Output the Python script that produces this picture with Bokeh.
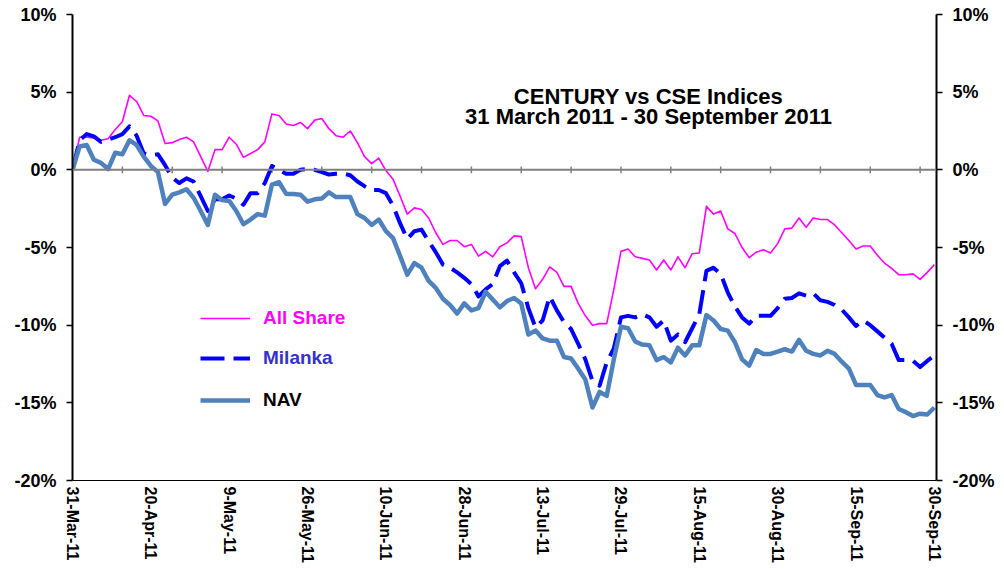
from bokeh.plotting import figure
from bokeh.models import (Range1d, LinearAxis, FixedTicker, PrintfTickFormatter,
                          Span, Legend, LegendItem, Label)
from bokeh.embed import file_html
from bokeh.resources import INLINE

# ---------------- data ----------------
tick_labels = ["31-Mar-11", "20-Apr-11", "9-May-11", "26-May-11", "10-Jun-11",
               "28-Jun-11", "13-Jul-11", "29-Jul-11", "15-Aug-11", "30-Aug-11",
               "15-Sep-11", "30-Sep-11"]
label_step = 11   # trading days between date labels
minor_step = 7    # trading days between tick marks on the 0% line

y_ticks = [-20, -15, -10, -5, 0, 5, 10]

all_share = [
    0.0, 2.1, 2.1, 2.05, 1.9, 2.0, 2.6, 3.1, 4.8, 4.4,
    3.5, 3.45, 3.15, 1.7, 1.75, 1.95, 2.1, 1.8, 0.85, -0.1,
    1.3, 1.3, 2.1, 1.65, 0.8, 1.05, 1.3, 1.8, 3.6, 3.5,
    2.95, 2.85, 3.05, 2.65, 3.2, 3.3, 2.65, 2.2, 2.1, 2.5,
    1.75, 0.85, 0.4, 0.75, -0.05, -0.6, -1.7, -2.85, -2.45, -2.55,
    -3.1, -4.05, -4.8, -4.55, -4.55, -4.95, -4.8, -5.55, -5.25, -5.6,
    -4.95, -4.7, -4.25, -4.3, -6.3, -7.65, -7.05, -6.25, -6.6, -7.5,
    -7.5, -8.6, -9.4, -10.0, -9.9, -9.9, -7.7, -5.25, -5.1, -5.6,
    -5.7, -5.8, -6.45, -5.8, -6.45, -5.6, -6.3, -5.4, -5.35, -2.35,
    -2.85, -2.65, -3.8, -4.1, -5.0, -5.65, -5.3, -5.15, -5.35, -4.75,
    -3.8, -3.75, -3.1, -3.7, -3.1, -3.2, -3.2, -3.55, -4.05, -4.55,
    -5.1, -4.9, -4.9, -5.5, -6.0, -6.35, -6.75, -6.75, -6.7, -7.05,
    -6.6, -6.1]

milanka = [
    0.0, 1.9, 2.3, 2.15, 1.8, 1.95, 2.1, 2.3, 2.8, 2.2,
    1.05, 0.95, 1.0, 0.3, -0.5, -0.85, -0.55, -0.75, -1.7, -2.65,
    -1.9, -1.9, -1.65, -1.85, -2.25, -1.5, -1.5, -0.85, 0.25, 0.0,
    -0.25, -0.25, 0.0, 0.05, 0.0, -0.15, -0.3, -0.25, -0.25, -0.35,
    -0.75, -1.05, -1.3, -1.3, -1.5, -2.3, -3.45, -4.45, -3.95, -3.85,
    -4.6, -5.3, -6.1, -6.3, -6.6, -6.95, -7.35, -8.15, -7.7, -7.35,
    -6.2, -5.85, -6.6, -7.3, -8.9, -10.15, -9.7, -8.15, -9.05, -9.8,
    -10.25, -11.2, -12.2, -13.6, -13.9, -12.4, -11.5, -9.5, -9.4, -9.5,
    -9.3, -9.5, -10.1, -9.7, -11.0, -10.6, -11.1, -10.2, -9.3, -6.5,
    -6.3, -6.7, -7.9, -8.8, -9.5, -9.9, -9.4, -9.4, -9.4, -8.9,
    -8.3, -8.25, -7.95, -8.1, -7.95, -8.4, -8.5, -8.7, -9.0, -9.5,
    -10.05, -9.7, -10.0, -10.4, -10.8, -11.2, -12.25, -12.25, -12.3, -12.7,
    -12.3, -11.95]

nav = [
    0.0, 1.5, 1.6, 0.65, 0.45, 0.05, 1.1, 1.0, 1.9, 1.6,
    0.85, 0.25, -0.15, -2.2, -1.6, -1.45, -1.25, -1.8, -2.65, -3.55,
    -1.6, -1.95, -2.0, -2.65, -3.5, -3.2, -2.85, -2.95, -0.95, -0.8,
    -1.55, -1.55, -1.6, -2.05, -1.9, -1.85, -1.45, -1.75, -1.75, -1.75,
    -2.85, -3.1, -3.55, -3.2, -3.95, -4.4, -5.55, -6.75, -6.0, -6.3,
    -7.15, -7.6, -8.3, -8.7, -9.25, -8.6, -9.05, -8.9, -7.85, -8.35,
    -8.85, -8.45, -8.25, -8.6, -10.6, -10.35, -10.85, -11.0, -11.0, -12.05,
    -12.15, -12.8, -13.5, -15.3, -14.3, -14.55, -12.2, -10.1, -10.2, -11.05,
    -11.25, -11.3, -12.25, -12.05, -12.4, -11.45, -11.95, -11.3, -11.3, -9.35,
    -9.7, -10.25, -10.35, -11.1, -12.2, -12.6, -11.6, -11.85, -11.85, -11.7,
    -11.55, -11.7, -10.95, -11.65, -11.85, -11.95, -11.65, -11.85, -12.35, -12.8,
    -13.85, -13.85, -13.85, -14.5, -14.65, -14.5, -15.4, -15.6, -15.85, -15.7,
    -15.75, -15.3]

# ---------------- figure ----------------
FONT = "Liberation Sans"
n = len(nav)
x = list(range(n))

p = figure(width=1000, height=565,
           x_range=Range1d(0, n - 1 + 0.3), y_range=Range1d(min(y_ticks), max(y_ticks)),
           x_axis_type=None, y_axis_type=None,
           output_backend="svg", toolbar_location=None,
           min_border_left=72, min_border_right=64, min_border_top=14, min_border_bottom=84)
p.outline_line_color = None
p.background_fill_color = "white"
p.border_fill_color = "white"


def style_y(ax):
    ax.axis_line_color = "black"
    ax.axis_line_width = 2
    ax.major_tick_line_color = "black"
    ax.major_tick_line_width = 1.5
    ax.major_tick_out = 6
    ax.major_tick_in = 0
    ax.minor_tick_out = 0
    ax.minor_tick_in = 0
    ax.major_label_standoff = 10
    ax.major_label_text_font = FONT
    ax.major_label_text_font_style = "bold"
    ax.major_label_text_font_size = "18px"
    ax.major_label_text_color = "black"


yl = LinearAxis(ticker=FixedTicker(ticks=y_ticks), formatter=PrintfTickFormatter(format="%d%%"))
style_y(yl)
p.add_layout(yl, "left")
yr = LinearAxis(ticker=FixedTicker(ticks=y_ticks), formatter=PrintfTickFormatter(format="%d%%"))
style_y(yr)
p.add_layout(yr, "right")

label_pos = [i * label_step for i in range(len(tick_labels))]
xb = LinearAxis(ticker=FixedTicker(ticks=label_pos),
                major_label_overrides={pos: lab for pos, lab in zip(label_pos, tick_labels)})
xb.axis_line_color = "black"
xb.axis_line_width = 1
xb.major_tick_out = 0
xb.major_tick_in = 0
xb.minor_tick_out = 0
xb.minor_tick_in = 0
xb.major_label_orientation = "vertical"
xb.major_label_standoff = 6
xb.major_label_text_font = FONT
xb.major_label_text_font_style = "bold"
xb.major_label_text_font_size = "16px"
xb.major_label_text_color = "black"
p.add_layout(xb, "below")

# 0% category line with its tick marks
p.add_layout(Span(location=0, dimension="width", line_color="#808080", line_width=2))
tx = list(range(minor_step, n, minor_step))
p.segment(x0=tx, y0=[-0.22] * len(tx), x1=tx, y1=[0.22] * len(tx),
          line_color="#808080", line_width=1.5)

# series
r_all = p.line(x, all_share, line_color="#FF00FF", line_width=1.6, line_join="round")
r_mil = p.line(x, milanka, line_color="#0000FF", line_width=4, line_dash="24 9",
               line_join="round")
r_nav = p.line(x, nav, line_color="#4F81BD", line_width=4.5, line_join="round")

# legend (one legend per entry so each label gets its own colour)
for r, lab, col, ly in [(r_all, "All Share", "#FF00FF", 151),
                        (r_mil, "Milanka", "#3333CC", 111),
                        (r_nav, "NAV", "black", 69)]:
    lg = Legend(items=[LegendItem(label=lab, renderers=[r])], location=(128, ly),
                padding=0, margin=0, spacing=0, glyph_width=50, glyph_height=20,
                label_height=20, label_standoff=13, label_text_font=FONT,
                label_text_font_style="bold", label_text_font_size="19px",
                label_text_color=col, background_fill_alpha=0, border_line_alpha=0)
    p.add_layout(lg, "center")

# title
for txt, ty in [("CENTURY vs CSE Indices", 384), ("31 March 2011 - 30 September 2011", 364)]:
    p.add_layout(Label(x=576, y=ty, x_units="screen", y_units="screen", text=txt,
                       text_align="center", text_baseline="alphabetic", text_font=FONT,
                       text_font_style="bold", text_font_size="22px", text_color="black"))

open("out.html", "w").write(file_html(p, INLINE))
